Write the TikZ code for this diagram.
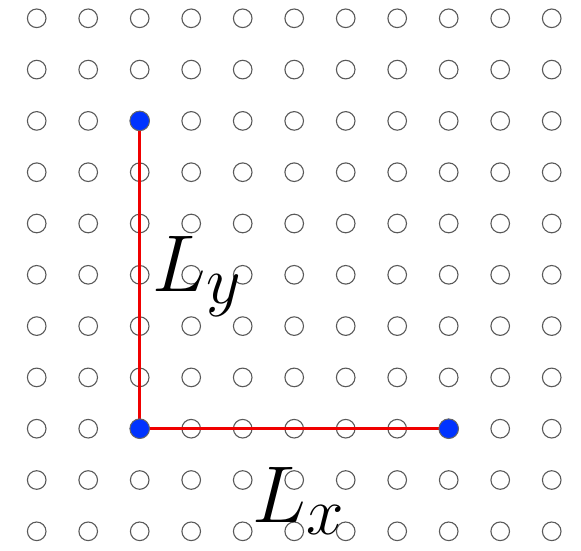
\documentclass[tikz,border=0pt]{standalone}
\usepackage{graphicx}
\begin{document}
\begin{tikzpicture}[x=0.5pt,y=-0.5pt,
  gridpt/.style={circle,draw=black!65,line width=0.55pt,minimum size=9.3pt,inner sep=0pt},
  bluept/.style={circle,draw=black!60,line width=0.5pt,fill={rgb,255:red,0;green,51;blue,255},minimum size=9.8pt,inner sep=0pt},
  redline/.style={draw={rgb,255:red,240;green,0;blue,0},line width=1.5pt},
  lbl/.style={anchor=base west,inner sep=0pt,font=\Huge}]
\useasboundingbox (0,0) rectangle (581,550);
\foreach \i in {0,...,10}{
  \foreach \j in {0,...,10}{
    \node[gridpt] (c-\i-\j) at ({36.7+51.5*\i},{18.3+51.3*\j}) {};
  }
}
\coordinate (corner) at (c-2-8.center);
\draw[redline] (c-2-2.center) -- (corner) -- (c-8-8.center);
\node[bluept] (top) at (c-2-2.center) {};
\node[bluept] (origin) at (c-2-8.center) {};
\node[bluept] (right) at (c-8-8.center) {};
\node[lbl] (ly) at (152,291.5) {\scalebox{1.62}{$L_y$}};
\node[lbl] (lx) at (252,522) {\scalebox{1.62}{$L_x$}};
\end{tikzpicture}
\end{document}
